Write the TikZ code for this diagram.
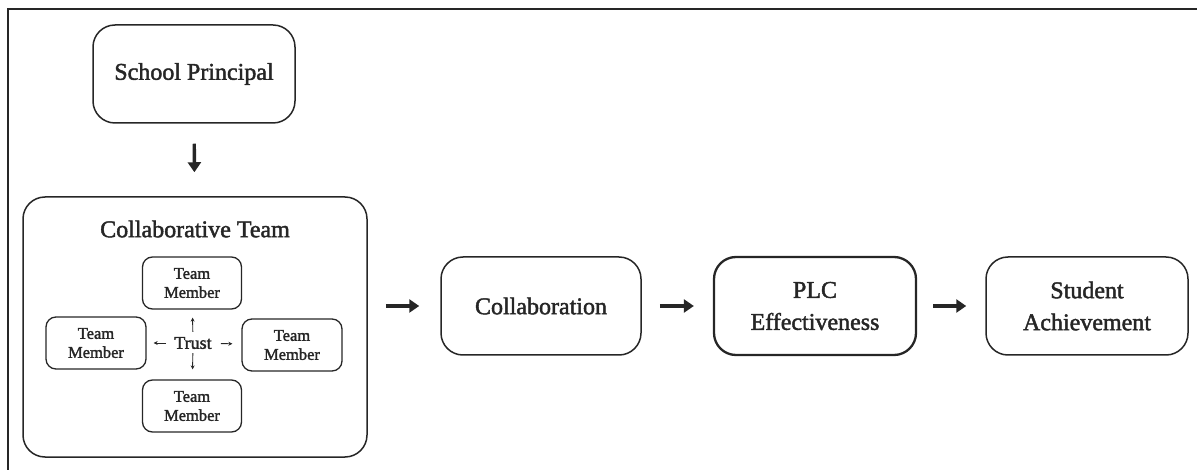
\documentclass[tikz,border=0pt]{standalone}
\usepackage{fontspec}
\setmainfont{Liberation Serif}[FakeBold=1.8]
\usetikzlibrary{arrows.meta}
\definecolor{ink}{HTML}{262626}
\tikzset{
  box/.style={draw=ink, line width=1.5pt, rounded corners=22pt, align=center,
    text=ink, font=\fontsize{24}{32}\selectfont, inner sep=0pt},
  member/.style={draw=ink, line width=1.3pt, rounded corners=10pt, align=center,
    text=ink, font=\fontsize{16.5}{19}\selectfont, inner sep=0pt,
    minimum width=99pt, minimum height=52pt},
  flow/.style={draw=ink, line width=3.4pt, -{Triangle[length=10pt,width=13pt]}},
  tiny/.style={draw=ink, line width=0.9pt, -{Stealth[length=4pt,width=4pt]}},
}
\begin{document}
\begin{tikzpicture}[x=1pt,y=-1pt]
\useasboundingbox (0,0) rectangle (1197,470);
% outer frame (left and top edges only)
\draw[ink, line width=1.4pt] (8,470) -- (8,9) -- (1197,9);

% principal and team container
\node[box, minimum width=202pt, minimum height=98pt] (sp) at (194,74) {School Principal};
\node[box, minimum width=344pt, minimum height=260pt] (team) at (195,327) {};
\node[text=ink, font=\fontsize{24}{28}\selectfont] (teamtitle) at (195,229) {Collaborative Team};

% team members around trust
\node[member] (tmN) at (192,283) {Team\\Member};
\node[member, minimum width=100pt] (tmW) at (96,343) {Team\\Member};
\node[member, minimum width=100pt] (tmE) at (292,345) {Team\\Member};
\node[member] (tmS) at (192,406) {Team\\Member};
\node[text=ink, font=\fontsize{18}{20}\selectfont, inner sep=1pt] (trust) at (193,343) {Trust};
\draw[tiny, shorten <=4pt, shorten >=8pt] (trust) -- (tmN);
\draw[tiny, shorten <=3pt, shorten >=10pt] (trust) -- (tmS);
\draw[tiny, shorten <=7pt, shorten >=7pt] (trust) -- (tmW);
\draw[tiny, shorten <=8pt, shorten >=9pt] (trust) -- (tmE);

% outcome chain
\node[box, minimum width=200pt, minimum height=98pt] (collab) at (541,306) {Collaboration};
\node[box, line width=2.3pt, minimum width=202pt, minimum height=98pt] (plc) at (815,306) {PLC\\Effectiveness};
\node[box, minimum width=202pt, minimum height=98pt] (stud) at (1087,306) {Student\\Achievement};

\draw[flow, shorten <=20pt, shorten >=24pt] (sp) -- (team);
\draw[flow, shorten <=18pt, shorten >=21pt] (team.east |- collab) -- (collab);
\draw[flow, shorten <=18pt, shorten >=19pt] (collab) -- (plc);
\draw[flow, shorten <=16pt, shorten >=19pt] (plc) -- (stud);
\end{tikzpicture}
\end{document}
